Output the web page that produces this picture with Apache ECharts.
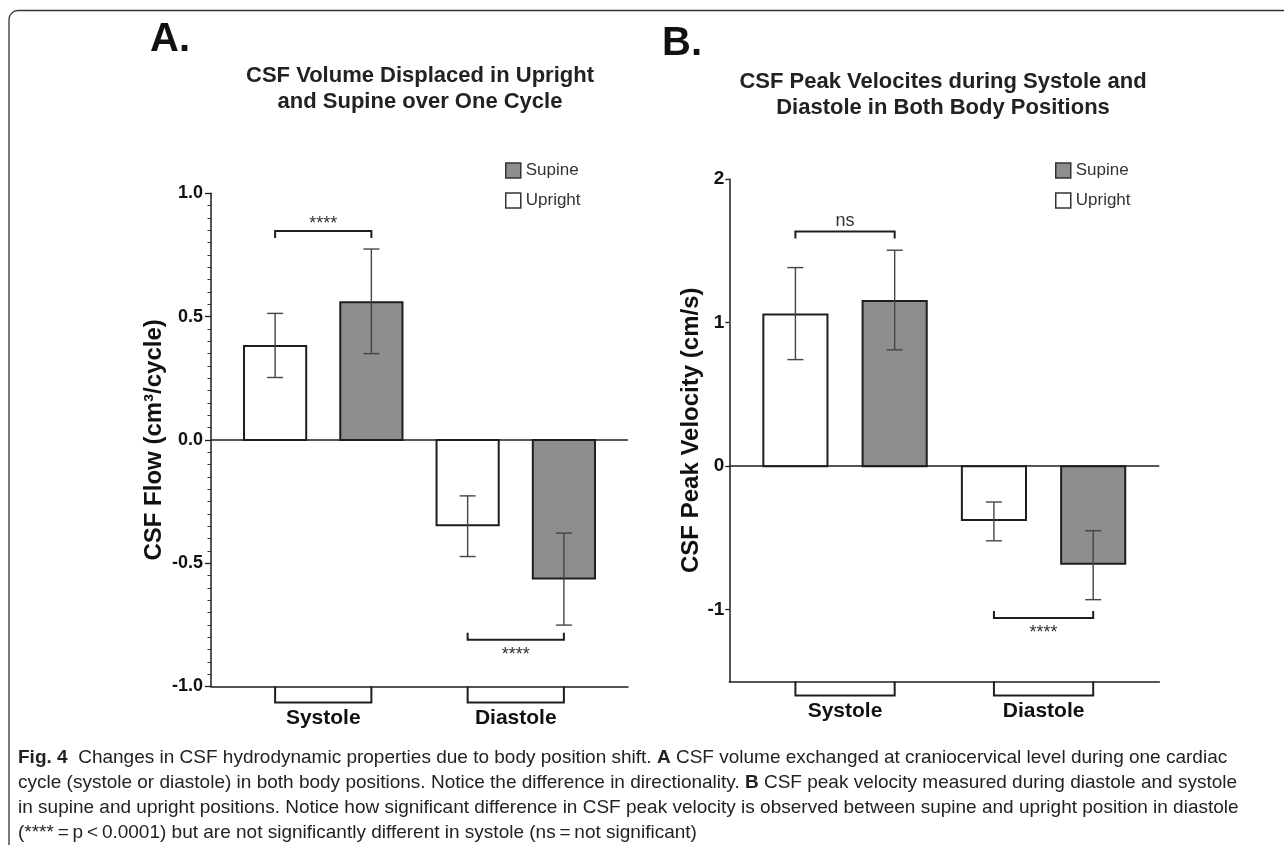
<!DOCTYPE html>
<html>
<head>
<meta charset="utf-8">
<script src="https://cdn.jsdelivr.net/npm/echarts@6/dist/echarts.min.js"></script>
<style>
html,body{margin:0;padding:0;background:#fff;}
#chart{width:1284px;height:845px;}
</style>
</head>
<body>
<div id="chart"></div>
<script>
// ---------- data ----------
const categories = ['Systole', 'Diastole'];
const legendNames = ['Supine', 'Upright'];

// Panel A: CSF flow (cm3/cycle)
const flowUpright = [0.381, -0.346];
const flowUprightLow = [0.253, -0.473];
const flowUprightHigh = [0.513, -0.227];
const flowSupine = [0.558, -0.562];
const flowSupineLow = [0.350, -0.751];
const flowSupineHigh = [0.774, -0.378];
const flowSigLevel = [0.847, -0.810];
const flowSigText = ['****', '****'];

// Panel B: CSF peak velocity (cm/s)
const velUpright = [1.056, -0.375];
const velUprightLow = [0.742, -0.520];
const velUprightHigh = [1.383, -0.250];
const velSupine = [1.151, -0.680];
const velSupineLow = [0.810, -0.930];
const velSupineHigh = [1.504, -0.450];
const velSigLevel = [1.634, -1.057];
const velSigText = ['ns', '****'];
const velTickValues = [-1, 0, 1, 2];

// ---------- styling ----------
const FONT = "'Liberation Sans', Arial, Helvetica, sans-serif";
const INK = '#1e1e1e';
const SUPINE_FILL = '#8e8e8e';
const BAR_W = 0.323;     // bar width in category units
const BAR_OFF = 0.25;    // bar offset from category centre
const X_MIN = -0.583, X_MAX = 1.583;

function barSeries(name, xi, vals, lo, hi, offset, fill) {
  return {
    type: 'custom', name: name, xAxisIndex: xi, yAxisIndex: xi, clip: false, z: 3,
    itemStyle: { color: fill, borderColor: INK, borderWidth: 1.5 },
    encode: { x: 0, y: 1 },
    data: vals.map((v, i) => [i, v, lo[i], hi[i]]),
    renderItem: function (params, api) {
      const x = api.value(0) + offset;
      const v = api.value(1);
      const base = api.coord([x, 0]);
      const top = api.coord([x, v]);
      const w = api.size([BAR_W, 0])[0];
      const pLo = api.coord([x, api.value(2)]);
      const pHi = api.coord([x, api.value(3)]);
      const cap = 8;
      const errStyle = { stroke: '#444', lineWidth: 1.4 };
      return {
        type: 'group',
        children: [
          { type: 'rect', shape: { x: base[0] - w / 2, y: Math.min(base[1], top[1]), width: w, height: Math.abs(base[1] - top[1]) },
            style: { fill: fill, stroke: INK, lineWidth: 2 } },
          { type: 'line', shape: { x1: pLo[0], y1: pLo[1], x2: pHi[0], y2: pHi[1] }, style: errStyle },
          { type: 'line', shape: { x1: pLo[0] - cap, y1: pLo[1], x2: pLo[0] + cap, y2: pLo[1] }, style: errStyle },
          { type: 'line', shape: { x1: pHi[0] - cap, y1: pHi[1], x2: pHi[0] + cap, y2: pHi[1] }, style: errStyle }
        ]
      };
    },
    markLine: name === 'Upright' ? {
      silent: true, symbol: ['none', 'none'], label: { show: false },
      lineStyle: { color: INK, width: 1.5, type: 'solid' },
      data: [{ yAxis: 0 }]
    } : undefined
  };
}

function categorySeries(xi, yMin, depth) {
  return {
    type: 'custom', xAxisIndex: xi, yAxisIndex: xi, clip: false, silent: true, z: 4,
    data: categories.map((c, i) => [i, yMin]),
    encode: { x: 0, y: 1 },
    renderItem: function (params, api) {
      const i = api.value(0);
      const pL = api.coord([i - BAR_OFF, api.value(1)]);
      const pR = api.coord([i + BAR_OFF, api.value(1)]);
      return {
        type: 'group',
        children: [
          { type: 'polyline', shape: { points: [[pL[0], pL[1]], [pL[0], pL[1] + depth], [pR[0], pR[1] + depth], [pR[0], pR[1]]] },
            style: { stroke: INK, lineWidth: 2, fill: null } },
          { type: 'text', x: (pL[0] + pR[0]) / 2, y: pL[1] + depth + 16,
            style: { text: categories[params.dataIndex], align: 'center', verticalAlign: 'middle',
                     font: 'bold 21px ' + FONT, fill: '#111' } }
        ]
      };
    }
  };
}

function sigSeries(xi, levels, texts) {
  return {
    type: 'custom', xAxisIndex: xi, yAxisIndex: xi, clip: false, silent: true, z: 4,
    data: levels.map((l, i) => [i, l]),
    encode: { x: 0, y: 1 },
    renderItem: function (params, api) {
      const i = api.value(0), lvl = api.value(1);
      const up = lvl > 0;
      const pL = api.coord([i - BAR_OFF, lvl]);
      const pR = api.coord([i + BAR_OFF, lvl]);
      const d = up ? 7 : -7;
      const txt = texts[params.dataIndex];
      const star = txt.indexOf('*') >= 0;
      const ty = up ? pL[1] - 11 : pL[1] + 11;
      return {
        type: 'group',
        children: [
          { type: 'polyline', shape: { points: [[pL[0], pL[1] + d], [pL[0], pL[1]], [pR[0], pR[1]], [pR[0], pR[1] + d]] },
            style: { stroke: INK, lineWidth: 2, fill: null } },
          { type: 'text', x: (pL[0] + pR[0]) / 2, y: ty + (star ? 4 : 0),
            style: { text: txt, align: 'center', verticalAlign: 'middle',
                     font: (star ? '18px ' : '18px ') + FONT, fill: '#333' } }
        ]
      };
    }
  };
}

const axisLine = { show: true, onZero: false, lineStyle: { color: INK, width: 1.5 } };

const option = {
  backgroundColor: '#fff',
  animation: false,
  textStyle: { fontFamily: FONT },
  grid: [
    { left: 211, top: 193.3, width: 417, height: 493.2 },
    { left: 729.3, top: 179, width: 430, height: 502.5 }
  ],
  xAxis: [0, 1].map(gi => ({
    type: 'value', gridIndex: gi, min: X_MIN, max: X_MAX,
    axisLine: axisLine, axisTick: { show: false }, axisLabel: { show: false }, splitLine: { show: false }
  })),
  yAxis: [
    {
      type: 'value', gridIndex: 0, min: -1, max: 1, interval: 0.5,
      axisLine: axisLine,
      axisTick: { show: true, length: 6, lineStyle: { color: INK, width: 1.3 } },
      minorTick: { show: true, splitNumber: 10, length: 3.5, lineStyle: { color: '#333', width: 1 } },
      splitLine: { show: false },
      axisLabel: { margin: 8, color: '#111', fontSize: 18, fontWeight: 'bold', fontFamily: FONT,
                   formatter: v => v.toFixed(1) },
      name: 'CSF Flow (cm\u00b3/cycle)', nameLocation: 'middle', nameGap: 45,
      nameTextStyle: { fontSize: 24, fontWeight: 'bold', color: '#111', fontFamily: FONT }
    },
    {
      type: 'value', gridIndex: 1, min: -1.5, max: 2,
      axisLine: axisLine,
      axisTick: { show: true, length: 4, customValues: velTickValues, lineStyle: { color: INK, width: 1.3 } },
      splitLine: { show: false },
      axisLabel: { margin: 5, color: '#111', fontSize: 19, fontWeight: 'bold', fontFamily: FONT,
                   customValues: velTickValues, formatter: v => String(v) },
      name: 'CSF Peak Velocity (cm/s)', nameLocation: 'middle', nameGap: 24,
      nameTextStyle: { fontSize: 24, fontWeight: 'bold', color: '#111', fontFamily: FONT }
    }
  ],
  legend: [500, 1050].map(left => ({
    orient: 'vertical', left: left, top: 157, itemWidth: 15, itemHeight: 15, itemGap: 13,
    selectedMode: false,
    textStyle: { fontSize: 17, color: '#333', fontFamily: FONT },
    data: [
      { name: legendNames[0], icon: 'rect', itemStyle: { color: SUPINE_FILL, borderColor: '#333', borderWidth: 1.5 } },
      { name: legendNames[1], icon: 'rect', itemStyle: { color: '#fff', borderColor: '#333', borderWidth: 1.5 } }
    ]
  })),
  series: [
    barSeries('Upright', 0, flowUpright, flowUprightLow, flowUprightHigh, -BAR_OFF, '#ffffff'),
    barSeries('Supine', 0, flowSupine, flowSupineLow, flowSupineHigh, BAR_OFF, SUPINE_FILL),
    categorySeries(0, -1, 16),
    sigSeries(0, flowSigLevel, flowSigText),
    barSeries('Upright', 1, velUpright, velUprightLow, velUprightHigh, -BAR_OFF, '#ffffff'),
    barSeries('Supine', 1, velSupine, velSupineLow, velSupineHigh, BAR_OFF, SUPINE_FILL),
    categorySeries(1, -1.5, 14),
    sigSeries(1, velSigLevel, velSigText)
  ],
  graphic: [
    { type: 'rect', shape: { x: 9, y: 10.5, width: 1400, height: 1000, r: 9 },
      style: { fill: null, stroke: '#333', lineWidth: 1.3 }, silent: true },
    { type: 'text', x: 150, y: 20,
      style: { text: 'A.', font: "bold 40px 'Liberation Sans Narrow', " + FONT, fill: '#111' } },
    { type: 'text', x: 662, y: 24,
      style: { text: 'B.', font: "bold 40px 'Liberation Sans Narrow', " + FONT, fill: '#111' } },
    { type: 'text', x: 420, y: 63,
      style: { text: 'CSF Volume Displaced in Upright\nand Supine over One Cycle', align: 'center',
               font: 'bold 22px ' + FONT, lineHeight: 26, fill: '#222' } },
    { type: 'text', x: 943, y: 69,
      style: { text: 'CSF Peak Velocites during Systole and\nDiastole in Both Body Positions', align: 'center',
               font: 'bold 22px ' + FONT, lineHeight: 26, fill: '#222' } },
    { type: 'text', x: 18, y: 745,
      style: {
        text: '{b|Fig. 4}  Changes in CSF hydrodynamic properties due to body position shift. {b|A} CSF volume exchanged at craniocervical level during one cardiac\n' +
              'cycle (systole or diastole) in both body positions. Notice the difference in directionality. {b|B} CSF peak velocity measured during diastole and systole\n' +
              'in supine and upright positions. Notice how significant difference in CSF peak velocity is observed between supine and upright position in diastole\n' +
              '(****\u2009=\u2009p\u2009<\u20090.0001) but are not significantly different in systole (ns\u2009=\u2009not significant)',
        font: '19px ' + FONT, fill: '#222', lineHeight: 25,
        rich: { b: { font: 'bold 19px ' + FONT, fill: '#222', lineHeight: 25 } }
      } }
  ]
};

const chart = echarts.init(document.getElementById('chart'), null, { renderer: 'canvas' });
chart.setOption(option);
</script>
</body>
</html>
